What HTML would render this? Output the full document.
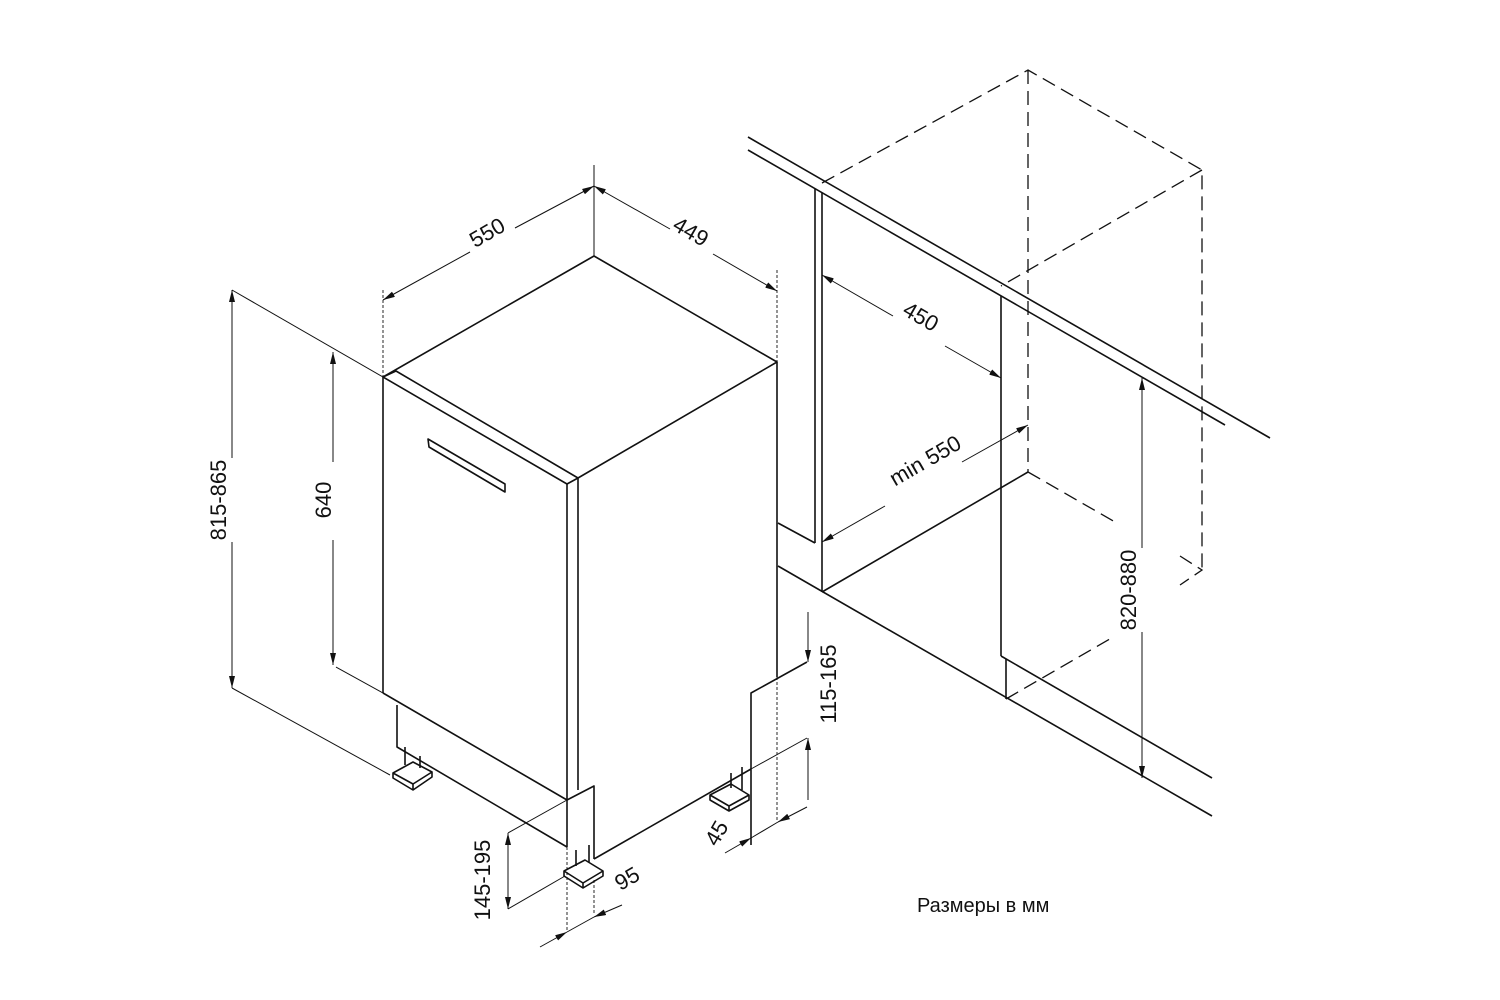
<!DOCTYPE html>
<html><head><meta charset="utf-8"><style>
html,body{margin:0;padding:0;background:#fff;}
svg{display:block;}
text{font-family:"Liberation Sans","DejaVu Sans",sans-serif;fill:#111;}
</style></head><body>
<svg width="1500" height="1000" viewBox="0 0 1500 1000" xmlns="http://www.w3.org/2000/svg">
<defs>
<marker id="a" viewBox="0 0 12 6" refX="12" refY="3" markerWidth="12" markerHeight="6" markerUnits="userSpaceOnUse" orient="auto-start-reverse">
<path d="M0,0 L12,3 L0,6 Z" fill="#111"/></marker>
</defs>
<g stroke="#111" stroke-width="1.6" fill="none" stroke-linejoin="round">
<!-- dishwasher top -->
<path d="M383,377 L594,256 L777,362 L578,478 L396,371 L383,377 L567,484 L578,478"/>
<line x1="383" y1="377" x2="383" y2="693"/>
<line x1="567" y1="484" x2="567" y2="847"/>
<line x1="578" y1="478" x2="578" y2="790"/>
<line x1="777" y1="362" x2="777" y2="677"/>
<line x1="383" y1="693" x2="567" y2="800"/>
<path d="M428,439 L505,484 L505,492 L429,447 Z"/>
<path d="M567,800 L594,786 L594,859"/>
<path d="M397,705 L397,747 L567,847"/>
<line x1="594" y1="859" x2="751" y2="769"/>
<path d="M751,845 L751,693 L807,662"/>
<!-- legs -->
<path d="M405,747 L405,765 M420,756 L420,768"/>
<path d="M393,773 L413,762 L432,772 L413,784 Z M393,773 L393,778 L413,790 L432,777 L432,772 M413,784 L413,790"/>
<path d="M576,850 L576,866 M589,845 L589,862"/>
<path d="M564,871 L585,860 L603,871 L583,883 Z M564,871 L564,876 L583,888 L603,876 L603,871 M583,883 L583,888"/>
<path d="M731,773 L731,788 M742,767 L742,790"/>
<path d="M710,795 L731,784 L749,795 L729,806 Z M710,795 L710,800 L729,811 L749,800 L749,795 M729,806 L729,811"/>
<!-- cabinet -->
<line x1="748" y1="137" x2="1270" y2="438"/>
<line x1="748" y1="150" x2="1225" y2="425"/>
<line x1="815" y1="189" x2="815" y2="543"/>
<line x1="822" y1="193" x2="822" y2="592"/>
<line x1="778" y1="523" x2="815" y2="543"/>
<line x1="778" y1="566" x2="1212" y2="816"/>
<line x1="1001" y1="296" x2="1001" y2="656"/>
<line x1="1001" y1="656" x2="1212" y2="778"/>
<line x1="1006" y1="659" x2="1006" y2="699"/>
<line x1="822" y1="592" x2="1028" y2="472"/>
</g>
<g stroke="#111" stroke-width="1.3" fill="none" stroke-dasharray="14,7">
<path d="M822,183 L1028,70 L1202,170 L1202,570 M1028,70 L1028,472 M1202,170 L1001,286 M1028,472 L1115,522 M1006,699 L1115,636"/>
<path d="M1180,556 L1202,570 L1180,585"/>
</g>
<g stroke="#111" stroke-width="0.9" fill="none" stroke-dasharray="3,2">
<line x1="383" y1="290" x2="383" y2="377"/>
<line x1="777" y1="270" x2="777" y2="362"/>
<line x1="777" y1="677" x2="777" y2="822"/>
<line x1="567" y1="847" x2="567" y2="930"/>
<line x1="594" y1="880" x2="594" y2="915"/>
</g>
<g stroke="#111" stroke-width="1" fill="none">
<line x1="594" y1="165" x2="594" y2="256"/>
<path d="M594,186 L515,228 M470,252 L383,300" marker-end="url(#a)" marker-start="url(#a)"/>
<path d="M594,186 L670,229 M713,254 L777,291" marker-start="url(#a)" marker-end="url(#a)"/>
<line x1="232" y1="290" x2="383" y2="377"/>
<line x1="232" y1="688" x2="390" y2="775"/>
<path d="M232,458 L232,290" marker-end="url(#a)"/>
<path d="M232,542 L232,688" marker-end="url(#a)"/>
<path d="M333,462 L333,352" marker-end="url(#a)"/>
<path d="M333,540 L333,665" marker-end="url(#a)"/>
<line x1="336" y1="667" x2="383" y2="693"/>
<line x1="508" y1="833" x2="567" y2="800"/>
<line x1="508" y1="909" x2="565" y2="876"/>
<path d="M508,870 L508,833" marker-end="url(#a)"/>
<path d="M508,870 L508,909" marker-end="url(#a)"/>
<path d="M540,947 L567,932" marker-end="url(#a)"/>
<path d="M622,905 L594,917" marker-end="url(#a)"/>
<line x1="567" y1="932" x2="594" y2="917"/>
<line x1="751" y1="769" x2="807" y2="738"/>
<path d="M725,853 L751,838" marker-end="url(#a)"/>
<path d="M807,807 L778,822" marker-end="url(#a)"/>
<line x1="751" y1="838" x2="778" y2="822"/>
<path d="M808,612 L808,662" marker-end="url(#a)"/>
<path d="M808,800 L808,738" marker-end="url(#a)"/>
<path d="M822,275 L893,316 M945,346 L1001,378" marker-start="url(#a)" marker-end="url(#a)"/>
<path d="M885,506 L822,542" marker-end="url(#a)"/>
<path d="M962,462 L1028,425" marker-end="url(#a)"/>
<path d="M1142,548 L1142,378" marker-end="url(#a)"/>
<path d="M1142,632 L1142,778" marker-end="url(#a)"/>
</g>
<g font-size="22">
<text transform="translate(488,234) rotate(-30)" text-anchor="middle" dominant-baseline="middle">550</text>
<text transform="translate(690,233) rotate(30)" text-anchor="middle" dominant-baseline="middle">449</text>
<text transform="translate(220,500) rotate(-90)" text-anchor="middle" dominant-baseline="middle">815-865</text>
<text transform="translate(325,500) rotate(-90)" text-anchor="middle" dominant-baseline="middle">640</text>
<text transform="translate(484,880) rotate(-90)" text-anchor="middle" dominant-baseline="middle">145-195</text>
<text transform="translate(628,880) rotate(-30)" text-anchor="middle" dominant-baseline="middle">95</text>
<text transform="translate(718,834) rotate(-60)" text-anchor="middle" dominant-baseline="middle">45</text>
<text transform="translate(830,684) rotate(-90)" text-anchor="middle" dominant-baseline="middle">115-165</text>
<text transform="translate(920,318) rotate(30)" text-anchor="middle" dominant-baseline="middle">450</text>
<text transform="translate(926,462) rotate(-30)" text-anchor="middle" dominant-baseline="middle">min 550</text>
<text transform="translate(1130,590) rotate(-90)" text-anchor="middle" dominant-baseline="middle">820-880</text>
</g>
<text x="917" y="912" font-size="20" font-family="Liberation Sans, sans-serif">Размеры в мм</text>
</svg>
</body></html>
